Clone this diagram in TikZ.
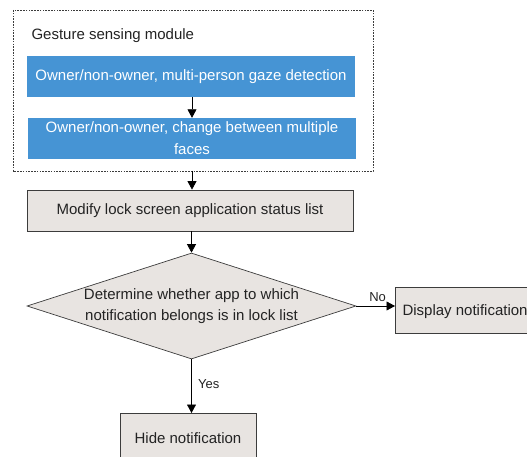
\documentclass[tikz,border=0pt]{standalone}
\usepackage{fontspec}
\setmainfont{Liberation Sans}
\usetikzlibrary{arrows.meta,shapes.geometric}
\definecolor{bluebox}{RGB}{70,148,212}
\definecolor{greybox}{RGB}{232,228,225}
\definecolor{edge}{RGB}{60,60,60}
\definecolor{ink}{RGB}{35,35,35}
\tikzset{
  every node/.style={font=\fontsize{15}{21}\selectfont, text=ink},
  bluebar/.style={draw=none, fill=bluebox, text=white, minimum width=328pt, minimum height=41pt, align=center, inner sep=0pt},
  procbox/.style={draw=edge, line width=0.8pt, fill=greybox, align=center, inner sep=0pt},
  decision/.style={draw=edge, line width=0.7pt, fill=greybox, diamond, aspect=3.1, minimum width=329pt, minimum height=106pt, inner sep=0pt, align=center},
  flow/.style={draw=black, line width=0.7pt, -{Triangle[length=8.5pt,width=9pt]}},
  edgelabel/.style={font=\fontsize{13}{15}\selectfont},
  modulebox/.style={draw=edge, line width=0.8pt, dash pattern=on 1.6pt off 1.2pt}
}
\begin{document}
\begin{tikzpicture}[x=1pt,y=-1pt]
\useasboundingbox (0,0) rectangle (527,457);
% outer dotted module frame
\draw[modulebox] (13,10) rectangle (373,171);
\coordinate (frameBottom) at (192,171);
\node[anchor=west] (title) at (28,36) {Gesture sensing module};
% blue function bars inside the module
\node[bluebar] (gaze) at (191,76.5) {Owner/non-owner, multi-person gaze detection};
\node[bluebar, font=\fontsize{15}{22}\selectfont] (faces) at (192,138.5) {Owner/non-owner, change between multiple\\faces};
% process steps
\node[procbox, minimum width=326pt, minimum height=41pt] (modify) at (190,210.5) {Modify lock screen application status list};
\node[decision] (check) at (191.5,306) {Determine whether app to which\\notification belongs is in lock list};
\node[procbox, anchor=north west, minimum width=150pt, minimum height=46pt] (show) at (395,287) {};
\node[anchor=west] (showtext) at (399,312) {Display notification};
\node[procbox, anchor=north west, minimum width=136pt, minimum height=60pt] (hide) at (120,413) {};
\node (hidetext) at (188,438.5) {Hide notification};
% connectors
\draw[flow] (gaze.south -| 192,0) -- (faces.north -| 192,0);
\draw[flow] (frameBottom) -- (modify.north -| frameBottom);
\draw[flow] (modify.south -| check.north) -- (check.north);
\draw[flow] (check.east) -- node[above, pos=0.55, yshift=1pt, edgelabel] {No} (show.west |- check.east);
\draw[flow] (check.south) -- node[right, pos=0.46, xshift=3pt, edgelabel] {Yes} (check.south |- hide.north);
\end{tikzpicture}
\end{document}
